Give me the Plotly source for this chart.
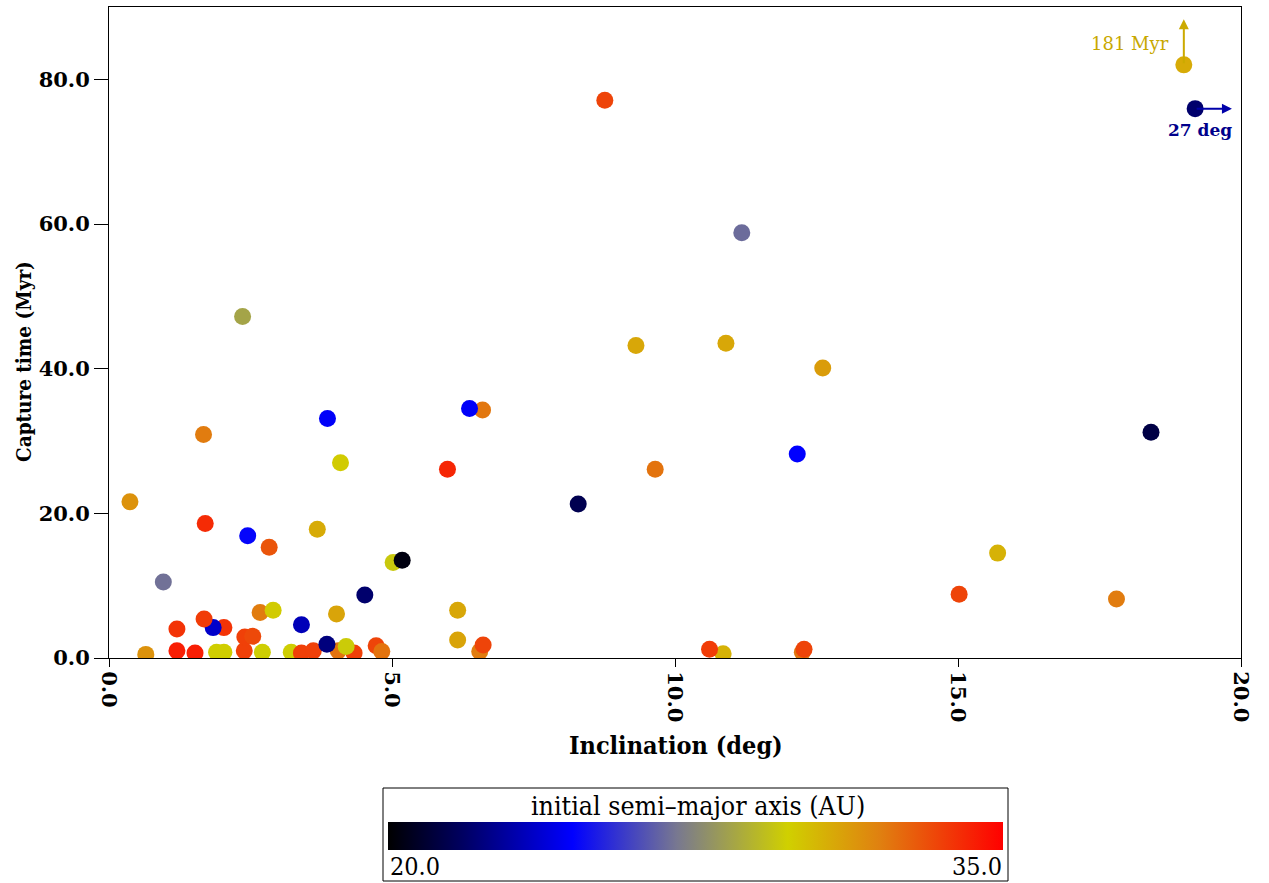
import plotly.graph_objects as go

# Inclination (deg)
incl = [0.65, 1.20, 1.52, 1.90, 2.03, 2.39, 2.71, 3.22, 3.40, 3.61, 4.05, 4.33,
        4.19, 3.85, 4.72, 4.82, 2.40, 2.54, 1.20, 2.03, 1.84, 1.68, 3.40,
        2.67, 2.90, 4.02, 4.52, 0.96, 0.37, 1.70, 2.83, 2.45, 3.68, 5.02, 5.18,
        1.67, 2.36, 3.86, 4.09, 5.98, 6.60, 6.37, 6.16, 6.16, 6.55, 6.61,
        8.29, 8.76, 9.31, 9.65, 10.90, 10.85, 10.61, 11.18, 12.16, 12.61,
        12.25, 12.28, 15.02, 15.70, 17.80, 18.41, 18.99, 19.19]
# Capture time (Myr)
capture = [0.5, 1.0, 0.7, 0.8, 0.8, 1.0, 0.8, 0.8, 0.7, 1.0, 1.0, 0.7,
           1.6, 1.9, 1.7, 0.9, 2.9, 3.0, 4.0, 4.2, 4.2, 5.4, 4.6,
           6.3, 6.6, 6.1, 8.7, 10.5, 21.6, 18.6, 15.3, 16.9, 17.8, 13.2, 13.5,
           30.9, 47.2, 33.1, 27.0, 26.1, 34.3, 34.5, 6.6, 2.5, 0.9, 1.8,
           21.3, 77.1, 43.2, 26.1, 43.5, 0.6, 1.2, 58.8, 28.2, 40.1,
           0.8, 1.2, 8.8, 14.5, 8.15, 31.2, 82.0, 75.95]
# initial semi-major axis (AU)
semimajor = [31.5, 34.3, 34.3, 29.8, 29.8, 33.5, 29.7, 29.7, 33.5, 33.5, 32.3, 33.5,
             29.6, 22.3, 33.4, 32.3, 33.5, 33.3, 33.8, 33.8, 23.6, 33.6, 23.3,
             32.1, 29.9, 31.0, 22.0, 26.9, 31.5, 34.0, 33.0, 24.6, 30.8, 29.5, 20.3,
             32.1, 28.4, 24.4, 29.9, 34.1, 32.2, 24.4, 30.9, 31.0, 32.1, 33.4,
             21.5, 33.4, 30.9, 32.3, 30.9, 30.6, 33.6, 26.8, 24.5, 31.2,
             32.2, 33.4, 33.4, 30.6, 32.1, 21.3, 30.8, 22.0]

x_ticks = [0, 5, 10, 15, 20]
x_ticktext = ["0.0", "5.0", "10.0", "15.0", "20.0"]
y_ticks = [0, 20, 40, 60, 80]
y_ticktext = ["0.0", "20.0", "40.0", "60.0", "80.0"]
cmin, cmax = 20.0, 35.0
cb_title = "initial semi\u2013major axis (AU)"

scale = [[0.0, "#000000"], [0.12, "#000060"], [0.3, "#0000ff"], [0.47, "#787890"],
         [0.65, "#d0d000"], [0.8, "#e08010"], [1.0, "#ff0000"]]

W, H = 1269, 883
L, R, T, B = 109, 28, 7, 225
pw, ph = W - L - R, H - T - B

def px(xp):
    return (xp - L) / pw

def py(yp):
    return (H - B - yp) / ph

fig = go.Figure()
fig.add_trace(go.Scatter(
    x=incl, y=capture, mode="markers",
    marker=dict(size=17, color=semimajor, colorscale=scale, cmin=cmin, cmax=cmax,
                line=dict(width=0),
                colorbar=dict(orientation="h", x=px(695.5), xanchor="center",
                              y=py(822), yanchor="top", len=625, lenmode="pixels",
                              thickness=28, thicknessmode="pixels", xpad=5, ypad=0,
                              outlinewidth=0, showticklabels=False, ticks="",
                              borderwidth=0)),
    showlegend=False, hoverinfo="x+y"))

COND = "DejaVu Serif Condensed, DejaVu Serif"
tickfont = dict(family="DejaVu Serif", size=21, color="black", weight="bold")
xtitlefont = dict(family=COND, size=25, color="black", weight="bold")
ytitlefont = dict(family=COND, size=20.5, color="black", weight="bold")
cbfont = dict(family=COND, size=25, color="black")
cbtitlefont = dict(family=COND, size=26.5, color="black")

fig.update_layout(
    width=W, height=H, margin=dict(l=L, r=R, t=T, b=B, pad=0),
    paper_bgcolor="white", plot_bgcolor="white",
    xaxis=dict(range=[0, 20], tickvals=x_ticks, ticktext=x_ticktext, tickangle=90,
               ticks="outside", ticklen=8, tickcolor="black", tickwidth=1,
               showline=True, linecolor="black", linewidth=1, mirror=True,
               showgrid=False, zeroline=False, tickfont=tickfont),
    yaxis=dict(range=[0, 90], tickvals=y_ticks, ticktext=y_ticktext,
               ticks="outside", ticklen=14, tickcolor="black", tickwidth=1,
               showline=True, linecolor="black", linewidth=1, mirror=True,
               showgrid=False, zeroline=False, tickfont=tickfont),
    xaxis2=dict(range=[0, 20], overlaying="x", anchor="y", side="bottom",
                tickvals=x_ticks, ticks="inside", ticklen=13, tickcolor="black",
                showticklabels=False, showline=False, showgrid=False, zeroline=False),
    yaxis2=dict(range=[0, 90], overlaying="y", anchor="x", side="left",
                tickvals=y_ticks, ticks="inside", ticklen=14, tickcolor="black",
                showticklabels=False, showline=False, showgrid=False, zeroline=False),
)

annos = [
    dict(x=px(676), y=py(745), xref="paper", yref="paper", text="Inclination (deg)",
         showarrow=False, font=xtitlefont, xanchor="center", yanchor="middle"),
    dict(x=px(24), y=py(362), xref="paper", yref="paper", text="Capture time (Myr)",
         showarrow=False, font=ytitlefont, textangle=-90, xanchor="center", yanchor="middle"),
    dict(x=px(698), y=py(805), xref="paper", yref="paper", text=cb_title,
         showarrow=False, font=cbtitlefont, xanchor="center", yanchor="middle"),
    dict(x=px(388), y=py(866), xref="paper", yref="paper", text="%.1f" % cmin,
         showarrow=False, font=cbfont, xanchor="left", yanchor="middle"),
    dict(x=px(1004), y=py(866), xref="paper", yref="paper", text="%.1f" % cmax,
         showarrow=False, font=cbfont, xanchor="right", yanchor="middle"),
    # off-scale markers
    dict(x=incl[-2], y=88.3, ax=incl[-2], ay=capture[-2], xref="x", yref="y",
         axref="x", ayref="y", text="", showarrow=True, arrowhead=2, arrowsize=1,
         arrowwidth=2, arrowcolor="#ccaa00"),
    dict(x=19.84, y=capture[-1], ax=incl[-1], ay=capture[-1], xref="x", yref="y",
         axref="x", ayref="y", text="", showarrow=True, arrowhead=2, arrowsize=1,
         arrowwidth=2, arrowcolor="#0000aa"),
    dict(x=18.76, y=85.0, xref="x", yref="y", text="181 Myr", showarrow=False,
         xanchor="right", yanchor="middle",
         font=dict(family="DejaVu Serif", size=18, color="#c8a800")),
    dict(x=19.28, y=73.0, xref="x", yref="y", text="27 deg", showarrow=False,
         xanchor="center", yanchor="middle",
         font=dict(family="DejaVu Serif", size=17, color="#00008b", weight="bold")),
]
fig.update_layout(annotations=annos)

fig.add_shape(type="rect", xref="paper", yref="paper",
              x0=px(383), x1=px(1008), y0=py(881), y1=py(788),
              line=dict(color="black", width=1), fillcolor="rgba(0,0,0,0)")

fig.write_html("out.html", config={"displayModeBar": False},
               post_script="document.body.style.margin='0';document.body.style.overflow='hidden';")
